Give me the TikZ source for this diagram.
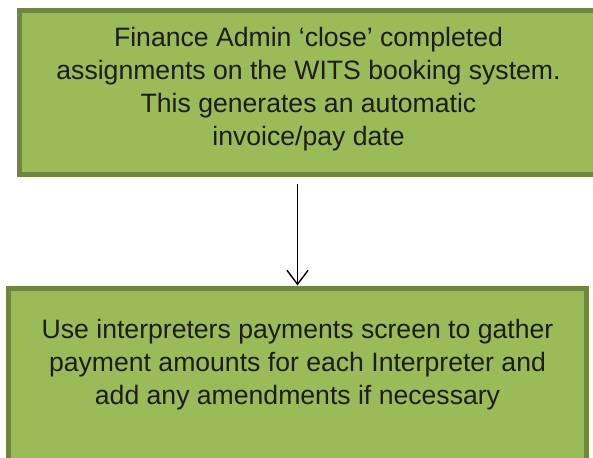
\documentclass[tikz,border=0pt]{standalone}
\usepackage{fontspec}
\setmainfont{Liberation Sans}
\usepackage{xcolor}
\usetikzlibrary{arrows.meta}
\definecolor{boxfill}{HTML}{9BBB59}
\definecolor{boxline}{HTML}{6F873D}
\definecolor{textdark}{HTML}{1C1C1C}

\begin{document}
\begin{tikzpicture}[x=1pt, y=-1pt,
   stepbox/.style={draw=boxline, fill=boxfill, line width=5pt, inner sep=0pt},
   steptext/.style={text=textdark, align=center, inner sep=0pt,
      font=\fontsize{26.6}{33}\selectfont},
   flow/.style={line width=1.8pt, -{Straight Barb[length=14pt, width=21pt, line width=1.4pt]}}]
   \useasboundingbox (0,0) rectangle (593,457);

   % the two steps
   \node[stepbox, minimum width=578pt, minimum height=164pt] (close) at (308.5,92.5) {};
   \node[stepbox, minimum width=578pt, minimum height=176pt] (gather) at (297.5,376) {};

   \node[steptext] (closetext) at ([yshift=3pt]close.center)
      {Finance Admin `close' completed\\assignments on the WITS booking system.\\This generates an automatic\\invoice/pay date};
   \node[steptext] (gathertext) at ([yshift=11pt]gather.center)
      {Use interpreters payments screen to gather\\payment amounts for each Interpreter and\\add any amendments if necessary};

   \draw[flow, shorten <=7pt] (close.south -| gather) -- (gather.north);
\end{tikzpicture}
\end{document}
